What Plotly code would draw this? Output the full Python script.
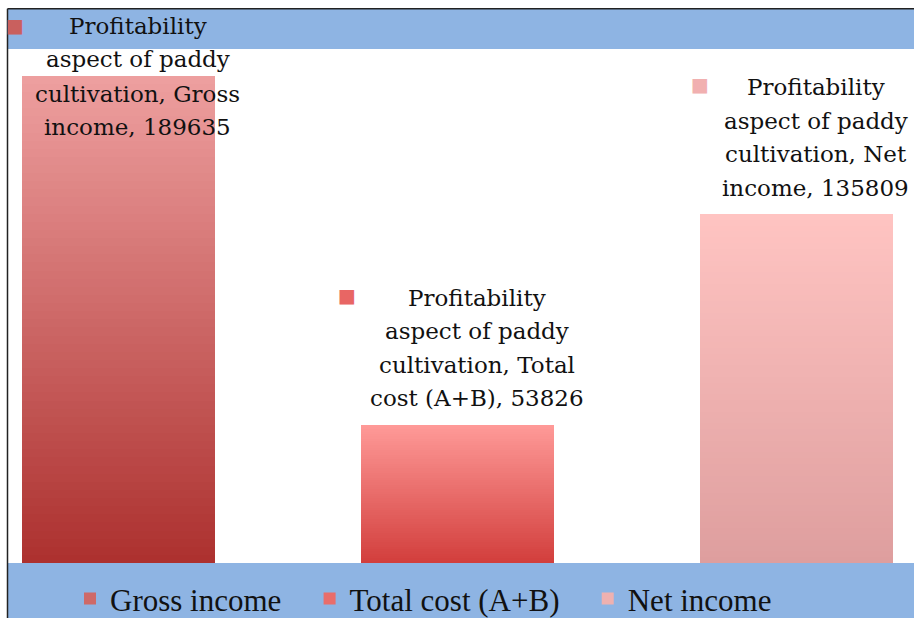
import textwrap
import plotly.graph_objects as go

# ---- data ----
categories = ["Gross income", "Total cost (A+B)", "Net income"]
values = [189635, 53826, 135809]
series_title = "Profitability aspect of paddy cultivation"

# ---- style ----
bottom_colors = [(172, 48, 46), (210, 62, 60), (222, 158, 158)]
top_colors = [(238, 160, 160), (255, 154, 152), (255, 196, 194)]
mid_colors = ["#c9605e", "#e86664", "#f1b0b0"]
square_xshift = [-104, -111, -97]
legend_pad = [3, 3, 0]   # extra no-break spaces after legend names (spacing)
BAND = "#8eb4e3"

N = 60
S = 626 / 618                     # vertical compensation for the capture
W, H = 914, 626
ML, MR = 8, 0
MT = round(48 * S, 1)
PLOT_BOTTOM = 564 * S
MB = H - PLOT_BOTTOM
PH = PLOT_BOTTOM - MT
PW = W - ML - MR


def ref_to_paper_y(ry):
    return (PLOT_BOTTOM - ry * S) / PH


fig = go.Figure()
for ci, (cat, val) in enumerate(zip(categories, values)):
    b, t = bottom_colors[ci], top_colors[ci]
    for k in range(N):
        f = (k + 0.5) / N
        col = "rgb({},{},{})".format(*[round(b[j] + (t[j] - b[j]) * f) for j in range(3)])
        fig.add_trace(go.Bar(
            x=[cat], y=[val / N], width=0.569,
            marker=dict(color=col, line=dict(width=0)),
            name=cat + "\u00a0" * legend_pad[ci], legendgroup=cat, showlegend=(k == N // 2),
            hoverinfo="skip",
        ))

LINE_PITCH = 33
LABEL_FONT = dict(family="DejaVu Serif", size=23, color="#111111")
for ci, (cat, val) in enumerate(zip(categories, values)):
    lines = textwrap.wrap(f"{series_title}, {cat}, {val}", width=18)
    n = len(lines)
    for li, line in enumerate(lines):
        if ci == 0:
            pos = dict(y=ref_to_paper_y(25 + LINE_PITCH * li + (2 if li >= 2 else 0)), yref="paper", yshift=0)
        else:
            pos = dict(y=val, yref="y", yshift=(26 + LINE_PITCH * (n - 1 - li)) * S)
        fig.add_annotation(text=line, x=cat, xref="x", xshift=19, showarrow=False,
                           yanchor="middle", font=LABEL_FONT, **pos)
    if ci == 0:
        spos = dict(y=ref_to_paper_y(24), yref="paper", yshift=0)
    else:
        spos = dict(y=val, yref="y", yshift=(26 + LINE_PITCH * (n - 1) + 3) * S)
    fig.add_annotation(text="■", x=cat, xref="x", xshift=square_xshift[ci], showarrow=False,
                       yanchor="middle",
                       font=dict(family="DejaVu Sans", size=19, color=mid_colors[ci]), **spos)

top_y = ref_to_paper_y(7.5)
left_x = -0.5 / PW
shapes = [
    dict(type="rect", xref="paper", yref="paper", x0=left_x, x1=1.01, y0=1, y1=top_y,
         fillcolor=BAND, line=dict(width=0), layer="below"),
    dict(type="rect", xref="paper", yref="paper", x0=left_x, x1=1.01, y0=-(MB + 2) / PH, y1=0,
         fillcolor=BAND, line=dict(width=0), layer="below"),
    dict(type="line", xref="paper", yref="paper", x0=left_x, x1=1.01, y0=top_y, y1=top_y,
         line=dict(color="#222222", width=1.5)),
    dict(type="line", xref="paper", yref="paper", x0=left_x, x1=left_x, y0=-(MB + 2) / PH, y1=top_y,
         line=dict(color="#222222", width=1.5)),
]

fig.update_layout(
    width=W, height=H,
    margin=dict(l=ML, r=MR, t=MT, b=MB, pad=0),
    barmode="stack", bargap=0,
    paper_bgcolor="white", plot_bgcolor="white",
    shapes=shapes,
    xaxis=dict(type="category", range=[-(118.5 - ML) / 339, 2 + (914 - 796.5) / 339],
               visible=False, fixedrange=True),
    yaxis=dict(range=[0, 200000], visible=False, fixedrange=True),
    showlegend=True,
    legend=dict(orientation="h", x=(423.5 - ML) / PW, xanchor="center", y=ref_to_paper_y(600), yanchor="middle",
                bgcolor="rgba(0,0,0,0)", font=dict(family="Liberation Serif", size=31, color="#111111"),
                traceorder="normal", itemclick=False, itemdoubleclick=False),
)

post = (
    "document.documentElement.style.margin='0px';"
    "document.body.style.margin='0px';"
    "document.documentElement.style.background='" + BAND + "';"
    "document.body.style.background='" + BAND + "';"
    "var g=document.getElementById('{plot_id}');"
    "if(g){g.style.position='fixed';g.style.left='0px';g.style.top='0px';}"
)

fig.write_html("out.html", config={"displayModeBar": False}, post_script=post)
